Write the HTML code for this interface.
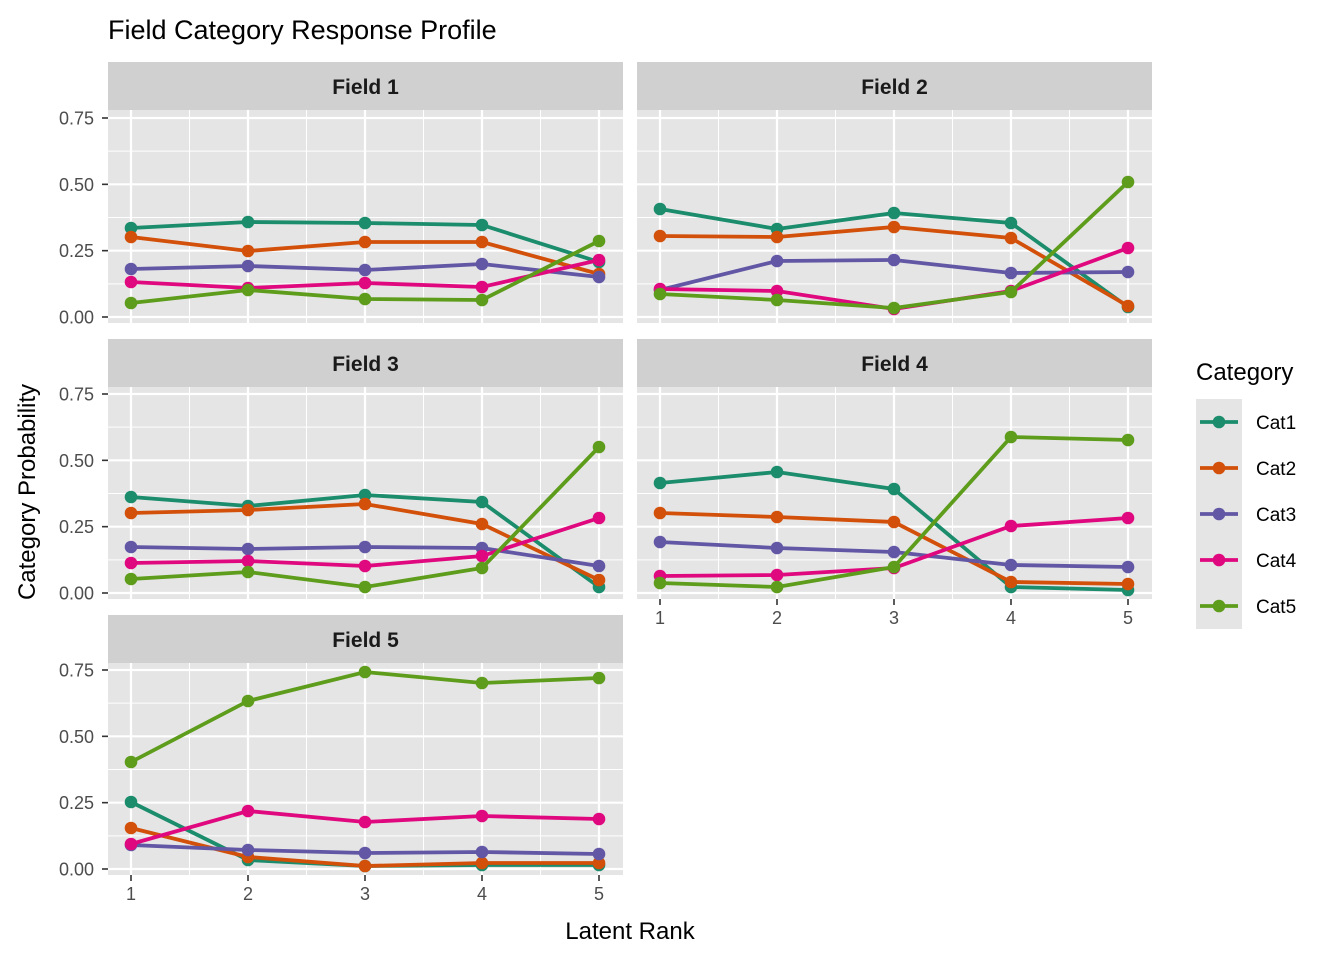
<!DOCTYPE html>
<html><head><meta charset="utf-8"><style>body{margin:0;background:#fff}svg{display:block;font-family:"Liberation Sans",Arial,sans-serif}</style></head>
<body>
<svg id="s" width="1344" height="960" xmlns="http://www.w3.org/2000/svg"></svg>
<script>
const s=document.getElementById('s');let h='';
h+='<rect width="1344" height="960" fill="#fff"/>';
h+='<text x="108" y="39" font-size="27" fill="#000">Field Category Response Profile</text>';
const cols=['#1B8C6C','#D2500A','#6257A5','#E0087E','#5E9C1C'];
const panels=[
 {x:108,sy:62,z:317,name:'Field 1',d:[[228,222,223,225,262],[237,251,242,242,274],[269,266,270,264,277],[282,288,283,287,260],[303,290,299,300,241]]},
 {x:637,sy:62,z:317,name:'Field 2',d:[[209,229,213,223,307],[236,237,227,238,306],[290,261,260,273,272],[289,291,309,291,248],[294,300,308,292,182]]},
 {x:108,sy:339,z:593,name:'Field 3',d:[[497,506,495,502,587],[513,510,504,524,580],[547,549,547,548,566],[563,561,566,556,518],[579,572,587,568,447]]},
 {x:637,sy:339,z:593,name:'Field 4',d:[[483,472,489,587,590],[513,517,522,582,584],[542,548,552,565,567],[576,575,568,526,518],[583,587,567,437,440]]},
 {x:108,sy:615,z:869,name:'Field 5',d:[[802,860,866,865,865],[828,857,866,863,863],[845,850,853,852,854],[844,811,822,816,819],[762,701,672,683,678]]}];
const W=515,u=117,k=265.33;
panels.forEach((p,i)=>{
 const py=p.sy+48,ph=p.z+5-py+1;
 h+=`<rect x="${p.x}" y="${p.sy}" width="${W}" height="48" fill="#d0d0d0"/>`;
 h+=`<text x="${p.x+W/2}" y="${p.sy+32}" font-size="21" font-weight="bold" text-anchor="middle" fill="#1a1a1a">${p.name}</text>`;
 h+=`<rect x="${p.x}" y="${py}" width="${W}" height="${ph}" fill="#e5e5e5"/>`;
 const x1=p.x+23;
 for(let j=0;j<3;j++){const y=p.z-(j+0.5)*0.25*k;h+=`<line x1="${p.x}" x2="${p.x+W}" y1="${y}" y2="${y}" stroke="#fff" stroke-width="1"/>`;}
 for(let j=0;j<4;j++){const x=x1+(j+0.5)*u;h+=`<line x1="${x}" x2="${x}" y1="${py}" y2="${py+ph}" stroke="#fff" stroke-width="1"/>`;}
 for(let j=0;j<4;j++){const y=p.z-j*0.25*k;h+=`<line x1="${p.x}" x2="${p.x+W}" y1="${y}" y2="${y}" stroke="#fff" stroke-width="2.2"/>`;
  if(p.x===108){h+=`<line x1="${p.x-6}" x2="${p.x}" y1="${y}" y2="${y}" stroke="#333" stroke-width="1.6"/><text x="${p.x-14}" y="${y+6.5}" font-size="18" text-anchor="end" fill="#4d4d4d">${(j*0.25).toFixed(2)}</text>`;}}
 for(let j=0;j<5;j++){const x=x1+j*u;h+=`<line x1="${x}" x2="${x}" y1="${py}" y2="${py+ph}" stroke="#fff" stroke-width="2.2"/>`;
  if(i>=3){h+=`<line x1="${x}" x2="${x}" y1="${py+ph}" y2="${py+ph+6}" stroke="#333" stroke-width="1.6"/><text x="${x}" y="${py+ph+25}" font-size="18" text-anchor="middle" fill="#4d4d4d">${j+1}</text>`;}}
 p.d.forEach((ys,c)=>{h+=`<polyline fill="none" stroke="${cols[c]}" stroke-width="3.8" points="${ys.map((y,j)=>(x1+j*u)+','+y).join(' ')}"/>`;
  ys.forEach((y,j)=>h+=`<circle cx="${x1+j*u}" cy="${y}" r="6.3" fill="${cols[c]}"/>`);});
});
h+='<text transform="translate(35,492) rotate(-90)" font-size="24" text-anchor="middle" fill="#000">Category Probability</text>';
h+='<text x="630" y="939" font-size="24" text-anchor="middle" fill="#000">Latent Rank</text>';
h+='<text x="1196" y="380" font-size="24" fill="#000">Category</text>';
h+='<rect x="1196" y="399" width="46" height="230" fill="#e5e5e5"/>';
cols.forEach((c,i)=>{const y=422+i*46;h+=`<line x1="1200" x2="1238" y1="${y}" y2="${y}" stroke="${c}" stroke-width="3.8"/><circle cx="1219" cy="${y}" r="6.3" fill="${c}"/><text x="1256" y="${y+7}" font-size="19" fill="#000">Cat${i+1}</text>`;});
s.innerHTML=h;
</script>
</body></html>
